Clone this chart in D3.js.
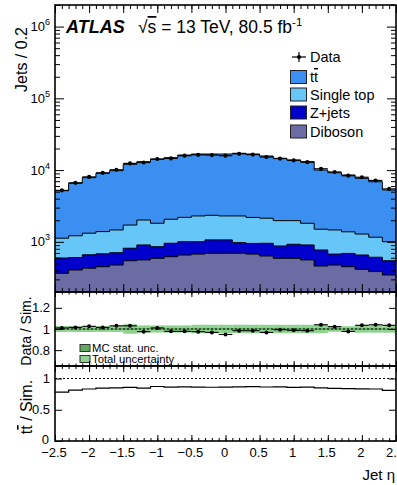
<!DOCTYPE html>
<html><head><meta charset="utf-8">
<script src="https://cdn.jsdelivr.net/npm/d3@7"></script>
<style>
html,body{margin:0;padding:0;background:#fff;}
svg{display:block;font-family:"Liberation Sans",Arial,Helvetica,sans-serif;}
</style></head><body>
<svg id="chart" width="397" height="485"></svg>
<script>
// Jet pseudorapidity, bins of 0.2
const binEdges = [-2.5,-2.3,-2.1,-1.9,-1.7,-1.5,-1.3,-1.1,-0.9,-0.7,-0.5,-0.3,-0.1,
                  0.1,0.3,0.5,0.7,0.9,1.1,1.3,1.5,1.7,1.9,2.1,2.3,2.5];

// Simulated samples (jets per bin)
const ttbar     = [4040,5340,6520,7640,8350,10330,11080,12330,12830,14030,14460,14410,14460,
                   14860,14550,13590,12620,11870,11290,8530,7740,7170,6400,5730,4280];
const singleTop = [530,610,660,710,760,900,1110,960,1110,1190,1290,1280,1230,
                   1320,1240,1180,1100,1050,910,730,790,690,630,550,460];
const zJets     = [230,200,230,230,230,270,345,265,335,350,330,370,370,
                   280,275,320,285,335,345,310,200,240,240,225,200];
const diboson   = [365,405,430,450,475,545,560,590,620,655,675,695,695,
                   695,675,635,590,590,560,460,475,450,415,385,345];

// Observed jets per bin
const dataCounts = [5217,6653,8036,9165,10109,12406,12768,14286,14567,15868,16336,16219,15884,
                    16881,16472,15222,14493,13665,12895,10431,9408,8353,7954,7166,5470];

// Relative uncertainties on the simulation
const mcStatUnc = [0.008,0.008,0.008,0.008,0.008,0.01,0.008,0.008,0.008,0.008,0.008,0.008,0.008,
                   0.008,0.008,0.008,0.008,0.008,0.008,0.008,0.008,0.008,0.008,0.008,0.008];
const totalUnc  = [0.028,0.028,0.028,0.028,0.028,0.045,0.034,0.034,0.034,0.034,0.04,0.04,0.04,
                   0.04,0.04,0.04,0.04,0.04,0.04,0.04,0.026,0.026,0.035,0.035,0.035];

// Axis ticks
const xMajor = [-2.5,-2,-1.5,-1,-0.5,0,0.5,1,1.5,2,2.5];
const xTickLabels = ["\u22122.5","\u22122","\u22121.5","\u22121","\u22120.5","0","0.5","1","1.5","2","2.5"];
const yMainMajor = [1e3,1e4,1e5,1e6];
const yMainExp = ["3","4","5","6"];
const yRatMajor = [0.8,1,1.2];
const yRatLabels = ["0.8","1","1.2"];
const yFracMajor = [0,0.5,1];
const yFracLabels = ["0","0.5","1"];

const legendNames = ["tt", "Single top", "Z+jets", "Diboson"];
const colors = {tt:"#3b8ff0", st:"#66c6f8", zj:"#0000cc", db:"#6c6ca4"};

// Layout
const X0 = 55, X1 = 396;
const MAIN = [5, 292], RAT = [292, 366], FRAC = [366, 441];

const x = d3.scaleLinear().domain([-2.5, 2.5]).range([X0, X1]);
const yMain = d3.scaleLog().domain([200, 2e6]).range([MAIN[1], MAIN[0]]);
const yRat = d3.scaleLinear().domain([0.65, 1.35]).range([RAT[1], RAT[0]]);
const yFrac = d3.scaleLinear().domain([0, 1.2]).range([FRAC[1], FRAC[0]]);

const svg = d3.select("#chart");
const defs = svg.append("defs");
[["clipMain", MAIN], ["clipRat", RAT], ["clipFrac", FRAC]].forEach(([id, p]) => {
  defs.append("clipPath").attr("id", id).append("rect")
    .attr("x", X0).attr("y", p[0]).attr("width", X1 - X0).attr("height", p[1] - p[0]);
});

// Cumulative stack
const cumDB = diboson.slice();
const cumZJ = zJets.map((v, i) => v + cumDB[i]);
const cumST = singleTop.map((v, i) => v + cumZJ[i]);
const cumTT = ttbar.map((v, i) => v + cumST[i]);

function stepPts(vals) {
  const pts = [];
  vals.forEach((v, i) => { pts.push([binEdges[i], v]); pts.push([binEdges[i + 1], v]); });
  return pts;
}

// writes "tt" with a bar over the second t (anti-top)
function ttbarText(sel) {
  sel.append("tspan").text("t");
  sel.append("tspan").attr("text-decoration", "overline").text("t");
  return sel;
}

// ---------- main panel ----------
const gMain = svg.append("g").attr("clip-path", "url(#clipMain)");
const area = d3.area().x(d => x(d[0])).y0(MAIN[1]).y1(d => yMain(d[1]));
const outline = d3.line().x(d => x(d[0])).y(d => yMain(d[1]));
[[cumTT, colors.tt], [cumST, colors.st], [cumZJ, colors.zj], [cumDB, colors.db]].forEach(([vals, col]) => {
  const pts = stepPts(vals);
  gMain.append("path").attr("d", area(pts)).attr("fill", col);
  gMain.append("path").attr("d", outline(pts)).attr("fill", "none")
    .attr("stroke", "#000").attr("stroke-width", 1);
});

// data points
const centers = dataCounts.map((_, i) => (binEdges[i] + binEdges[i + 1]) / 2);
const gData = gMain.append("g");
dataCounts.forEach((n, i) => {
  const cy = yMain(n);
  gData.append("line").attr("x1", x(binEdges[i])).attr("x2", x(binEdges[i + 1]))
    .attr("y1", cy).attr("y2", cy).attr("stroke", "#000").attr("stroke-width", 1.2);
  gData.append("line").attr("x1", x(centers[i])).attr("x2", x(centers[i]))
    .attr("y1", yMain(n + Math.sqrt(n))).attr("y2", yMain(n - Math.sqrt(n)))
    .attr("stroke", "#000").attr("stroke-width", 1.2);
  gData.append("circle").attr("cx", x(centers[i])).attr("cy", cy).attr("r", 2.1).attr("fill", "#000");
});

// ---------- ratio panel ----------
const gRat = svg.append("g").attr("clip-path", "url(#clipRat)");
totalUnc.forEach((u, i) => {
  gRat.append("rect").attr("x", x(binEdges[i])).attr("width", x(binEdges[i + 1]) - x(binEdges[i]))
    .attr("y", yRat(1 + u)).attr("height", yRat(1 - u) - yRat(1 + u)).attr("fill", "#8fd28f");
});
mcStatUnc.forEach((u, i) => {
  gRat.append("rect").attr("x", x(binEdges[i])).attr("width", x(binEdges[i + 1]) - x(binEdges[i]))
    .attr("y", yRat(1 + u)).attr("height", yRat(1 - u) - yRat(1 + u)).attr("fill", "#63a863");
});
gRat.append("line").attr("x1", X0).attr("x2", X1).attr("y1", yRat(1)).attr("y2", yRat(1))
  .attr("stroke", "#000").attr("stroke-width", 1).attr("stroke-dasharray", "2,2");
dataCounts.forEach((n, i) => {
  const r = n / cumTT[i];
  const e = Math.sqrt(n) / cumTT[i];
  const cy = yRat(r);
  gRat.append("line").attr("x1", x(binEdges[i])).attr("x2", x(binEdges[i + 1]))
    .attr("y1", cy).attr("y2", cy).attr("stroke", "#000").attr("stroke-width", 1.1);
  gRat.append("line").attr("x1", x(centers[i])).attr("x2", x(centers[i]))
    .attr("y1", yRat(r + e)).attr("y2", yRat(r - e)).attr("stroke", "#000").attr("stroke-width", 1.1);
  gRat.append("circle").attr("cx", x(centers[i])).attr("cy", cy).attr("r", 2).attr("fill", "#000");
});

// ratio legend
const ratLeg = [["MC stat. unc.", "#63a863", 348], ["Total uncertainty", "#8fd28f", 359]];
ratLeg.forEach(([t, c, yy]) => {
  svg.append("rect").attr("x", 80).attr("y", yy - 3.5).attr("width", 10).attr("height", 7)
    .attr("fill", c).attr("stroke", "#333").attr("stroke-width", 1);
  svg.append("text").attr("x", 92).attr("y", yy + 4).attr("font-size", 11.3).text(t);
});

// ---------- ttbar fraction panel ----------
const gFrac = svg.append("g").attr("clip-path", "url(#clipFrac)");
gFrac.append("line").attr("x1", X0).attr("x2", X1).attr("y1", yFrac(1)).attr("y2", yFrac(1))
  .attr("stroke", "#000").attr("stroke-width", 1).attr("stroke-dasharray", "2,2");
const frac = ttbar.map((v, i) => v / cumTT[i]);
gFrac.append("path").attr("d", d3.line().x(d => x(d[0])).y(d => yFrac(d[1]))(stepPts(frac)))
  .attr("fill", "none").attr("stroke", "#000").attr("stroke-width", 1.2);

// ---------- ticks ----------
const xMinor = d3.range(-2.5, 2.5001, 0.1).map(v => +v.toFixed(2));
function xTicks(yPos, len, vals, top) {
  const ax = (top ? d3.axisTop(x) : d3.axisBottom(x)).tickValues(vals).tickSize(-len).tickFormat("");
  const g = svg.append("g").attr("transform", `translate(0,${yPos})`).call(ax);
  g.select(".domain").remove();
  g.selectAll("line").attr("stroke", "#000").attr("stroke-width", 1);
}
function yTicks(scale, len, vals) {
  [[d3.axisLeft(scale), X0], [d3.axisRight(scale), X1]].forEach(([ax, xp]) => {
    const g = svg.append("g").attr("transform", `translate(${xp},0)`)
      .call(ax.tickValues(vals).tickSize(-len).tickFormat(""));
    g.select(".domain").remove();
    g.selectAll("line").attr("stroke", "#000").attr("stroke-width", 1);
  });
}
// main
xTicks(MAIN[1], 8, xMajor, false); xTicks(MAIN[1], 4, xMinor, false);
xTicks(MAIN[0], 8, xMajor, true);  xTicks(MAIN[0], 4, xMinor, true);
const yMinor = [];
[100, 1000, 10000, 100000, 1000000].forEach(d => [2,3,4,5,6,7,8,9].forEach(m => {
  const v = d * m; if (v >= 200 && v <= 2e6) yMinor.push(v);
}));
yTicks(yMain, 9, yMainMajor); yTicks(yMain, 5, yMinor);
// ratio
xTicks(RAT[1], 5, xMajor, false); xTicks(RAT[1], 2.5, xMinor, false);
xTicks(RAT[0], 5, xMajor, true);  xTicks(RAT[0], 2.5, xMinor, true);
yTicks(yRat, 7, yRatMajor);
// fraction
xTicks(FRAC[1], 6, xMajor, false); xTicks(FRAC[1], 3, xMinor, false);
xTicks(FRAC[0], 6, xMajor, true);  xTicks(FRAC[0], 3, xMinor, true);
yTicks(yFrac, 7, yFracMajor);

// frames
[MAIN, RAT, FRAC].forEach(p => {
  svg.append("rect").attr("x", X0).attr("y", p[0]).attr("width", X1 - X0).attr("height", p[1] - p[0])
    .attr("fill", "none").attr("stroke", "#000").attr("stroke-width", 1.6);
});

// ---------- tick labels ----------
const lab = svg.append("g").attr("font-size", 13).attr("fill", "#000");
yMainMajor.forEach((v, i) => {
  const t = lab.append("text").attr("x", 50).attr("y", yMain(v) + 4.5).attr("text-anchor", "end");
  t.append("tspan").text("10");
  t.append("tspan").attr("dy", -6).attr("font-size", 9).text(yMainExp[i]);
});
yRatMajor.forEach((v, i) => {
  lab.append("text").attr("x", 50).attr("y", yRat(v) + 4.5).attr("text-anchor", "end").text(yRatLabels[i]);
});
yFracMajor.forEach((v, i) => {
  lab.append("text").attr("x", v === 0 ? 49 : 50).attr("y", yFrac(v) + (v === 0 ? 2.5 : 4.5))
    .attr("text-anchor", "end").text(yFracLabels[i]);
});
xMajor.forEach((v, i) => {
  lab.append("text").attr("x", x(v) - 1).attr("y", 457).attr("text-anchor", "middle").text(xTickLabels[i]);
});

// ---------- axis titles ----------
svg.append("text").attr("transform", "translate(27,27) rotate(-90)").attr("text-anchor", "end")
  .attr("font-size", 16).text("Jets / 0.2");
svg.append("text").attr("transform", "translate(31,331) rotate(-90)").attr("text-anchor", "middle")
  .attr("font-size", 14).text("Data / Sim.");
const fracTitle = svg.append("text").attr("transform", "translate(32,407) rotate(-90)")
  .attr("text-anchor", "middle").attr("font-size", 16);
ttbarText(fracTitle);
fracTitle.append("tspan").text(" / Sim.");
svg.append("text").attr("x", 395).attr("y", 480).attr("text-anchor", "end").attr("font-size", 15)
  .text("Jet \u03b7");

// ---------- header ----------
svg.append("text").attr("x", 66).attr("y", 33).attr("font-size", 18)
  .attr("font-weight", "bold").attr("font-style", "italic").text("ATLAS");
const hdr = svg.append("text").attr("x", 138).attr("y", 33).attr("font-size", 17.5);
hdr.append("tspan").text("\u221a");
hdr.append("tspan").attr("text-decoration", "overline").text("s");
hdr.append("tspan").text(" = 13 TeV, 80.5 fb");
hdr.append("tspan").attr("dy", -7).attr("font-size", 11.5).text("-1");

// ---------- legend ----------
const leg = svg.append("g").attr("font-size", 14.5);
leg.append("line").attr("x1", 292).attr("x2", 306).attr("y1", 57).attr("y2", 57).attr("stroke", "#000").attr("stroke-width", 1.2);
leg.append("line").attr("x1", 299).attr("x2", 299).attr("y1", 52).attr("y2", 62).attr("stroke", "#000").attr("stroke-width", 1.2);
leg.append("circle").attr("cx", 299).attr("cy", 57).attr("r", 2.1).attr("fill", "#000");
leg.append("text").attr("x", 310).attr("y", 62).text("Data");
const legCols = [colors.tt, colors.st, colors.zj, colors.db];
const legY = [77, 94.5, 112.5, 131.5];
legendNames.forEach((nm, i) => {
  leg.append("rect").attr("x", 290.5).attr("y", legY[i] - 6.5).attr("width", 16).attr("height", 13)
    .attr("fill", legCols[i]).attr("stroke", "#222").attr("stroke-width", 1);
  const t = leg.append("text").attr("x", 310).attr("y", legY[i] + 5);
  if (i === 0) ttbarText(t); else t.text(nm);
});
</script>
</body></html>
